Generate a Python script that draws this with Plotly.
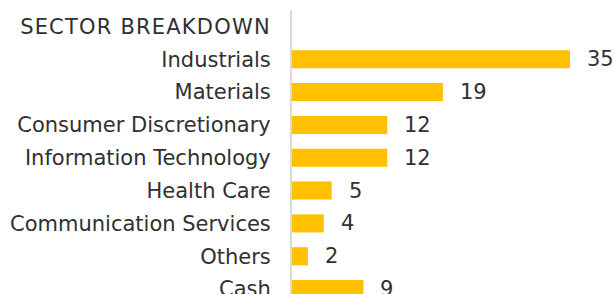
import plotly.graph_objects as go

title_label = "SECTOR BREAKDOWN"
categories = ["Industrials", "Materials", "Consumer Discretionary", "Information Technology",
              "Health Care", "Communication Services", "Others", "Cash"]
values = [35, 19, 12, 12, 5, 4, 2, 9]

FONT = "DejaVu Sans"
TXT = "#303030"

fig = go.Figure()
fig.add_trace(go.Bar(
    x=values, y=categories, orientation="h",
    marker=dict(color="#FFC000", line=dict(width=0)),
    hoverinfo="skip",
))
for c, v in zip(categories, values):
    fig.add_annotation(x=v, y=c, text=str(v), showarrow=False, xanchor="left",
                       xshift=15, font=dict(family=FONT, size=21, color=TXT))

title_tick = "<span style='letter-spacing:1.2px'>" + title_label + "</span>"

fig.update_layout(
    width=614, height=294,
    margin=dict(l=292, r=0, t=10, b=0, autoexpand=False),
    paper_bgcolor="white", plot_bgcolor="white",
    bargap=0.45, showlegend=False,
    font=dict(family=FONT, size=21, color=TXT),
)
fig.update_xaxes(range=[0, 40.55], showgrid=False, zeroline=False, showticklabels=False,
                 showline=False, automargin=False)
fig.update_yaxes(type="category", categoryorder="array",
                 categoryarray=[title_label] + categories,
                 tickmode="array", tickvals=[title_label] + categories,
                 ticktext=[title_tick] + categories,
                 range=[8.15, -0.5], showgrid=False, zeroline=False,
                 showline=True, linecolor="#d9d9d9", linewidth=2,
                 ticks="", ticklabelstandoff=15, automargin=False,
                 tickfont=dict(family=FONT, size=21, color=TXT))

fig.write_html("out.html",
               config={"displayModeBar": False},
               post_script="document.body.style.margin='0';document.body.style.overflow='hidden';")
